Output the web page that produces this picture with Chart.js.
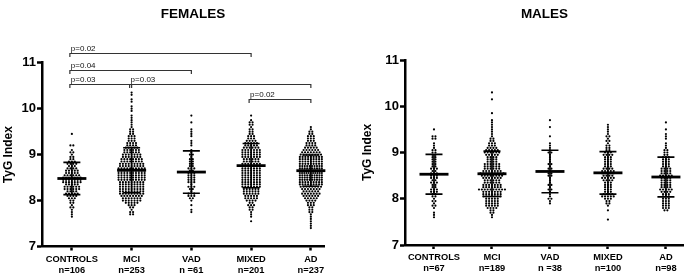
<!DOCTYPE html>
<html><head><meta charset="utf-8">
<script src="https://cdn.jsdelivr.net/npm/chart.js@4"></script>
<style>
html,body{margin:0;padding:0;background:#fff;}
#wrap{position:relative;width:685px;height:275px;overflow:hidden;}
#cf{position:absolute;left:0;top:0;}
#cm{position:absolute;left:345px;top:0;}
</style></head><body>
<div id="wrap"><canvas id="cf" width="345" height="275"></canvas><canvas id="cm" width="340" height="275"></canvas></div>
<script>
// ---------- DATA ----------
const categories = ['CONTROLS', 'MCI', 'VAD', 'MIXED', 'AD'];
const femaleN = ['n=106', 'n=253', 'n =61', 'n=201', 'n=237'];
const maleN = ['n=67', 'n=189', 'n =38', 'n=100', 'n=98'];
const yTicks = [7, 8, 9, 10, 11];
const binStep = 0.05;   // TyG values, grouped in 0.05 steps

// Females: first TyG value of each group and counts per 0.05 step
const fStarts = [7.65, 7.70, 7.75, 7.55, 7.40];
const fControlsCounts = [1,1,1,1,2,1,2,2,3,4, 5,4,6,6,5,7,7,7,6,5, 5,4,3,4,3,2,2,1,2,1, 0,2,0,0,0,0,1];
const fMciCounts = [2,2,1,2,3,5,7,7,8,9, 9,9,9,9,9,10,10,10,10,10, 10,9,9,8,8,7,7,6,6,5, 4,4,3,3,3,2,2,2,1,1, 1,1,1,1,0,1,1,1,0,1, 1,0,1,1];
const fVadCounts = [1,1,0,1,0,1,2,3,3,1, 2,3,1,3,3,3,3,3,2,3, 2,2,2,2,1,2,1,1,0,1, 1,1,0,1,1,1,1,0,0,1, 0,0,1];
const fMixedCounts = [1,0,1,1,1,2,2,3,2,4, 5,5,6,6,6,7,7,7,7,7, 7,7,7,7,7,7,6,6,7,7, 7,7,6,5,5,4,3,3,2,2, 2,1,2,2,1,0,1];
const fAdCounts = [1,1,1,1,1,1,1,2,2,2, 3,3,4,5,6,7,6,7,8,9, 9,10,10,10,11,11,10,10,9,9, 9,9,8,7,6,5,4,4,3,3, 3,2,2,1,1];
const fMeans = [8.48, 8.66, 8.62, 8.76, 8.65];
const fSDs = [0.35, 0.49, 0.46, 0.48, 0.34];

// Males
const mStarts = [7.60, 7.60, 7.90, 7.55, 7.75];
const mControlsCounts = [1,1,1,0,1,2,1,2,1,2, 2,3,3,2,2,3,2,3,3,3, 2,3,2,2,2,2,2,2,2,2, 1,1,1,0,2,2,0,0,1];
const mMciCounts = [1,1,2,2,4,5,5,5,5,7, 7,7,10,7,7,6,6,7,8,9, 7,6,6,6,4,4,4,5,6,5, 4,3,3,2,2,1,1,1,1,1, 1,1,1,0,0,1,0,0,0,0, 0,1,0,0,1];
const mVadCounts = [1,1,2,1,1,1,2,1,2,1, 1,1,2,2,1,2,1,2,1,1, 1,1,2,1,1,1,1,0,0,1, 0,0,0,1,0,0,1];
const mMixedCounts = [1,0,0,0,1,0,1,2,2,3, 5,4,3,3,3,3,3,4,5,4, 5,5,4,3,3,3,3,3,4,3, 2,2,2,1,2,1,2,1,1,1, 1,1];
const mAdCounts = [2,3,3,3,3,3,3,3,4,5, 4,4,4,4,4,5,4,4,4,3, 3,3,3,3,2,2,2,1,1,1, 0,1,1,1,0,1,0,0,1];
const mMeans = [8.53, 8.54, 8.59, 8.56, 8.47];
const mSDs = [0.43, 0.49, 0.46, 0.46, 0.43];

// Significance brackets (females)
const bracketFrom = [0, 0, 0, 1, 3];
const bracketTo = [3, 2, 1, 4, 4];
const bracketLevel = [11.22, 10.84, 10.53, 10.53, 10.20];
const bracketP = ['p=0.02', 'p=0.04', 'p=0.03', 'p=0.03', 'p=0.02'];

// ---------- STYLE ----------
const FONT = "'Liberation Sans', Arial, sans-serif";
const dotSpacingPx = 2.9;
const fMaxRowPx = [22, 27, 22, 28, 22];
const mMaxRowPx = [22, 28, 14, 26, 26];

function buildPoints(countsList, starts, maxRow, pxPerCat) {
  const pts = [];
  countsList.forEach((counts, gi) => {
    counts.forEach((k, bi) => {
      if (!k) return;
      const yv = +(starts[gi] + bi * binStep).toFixed(2);
      let sp = dotSpacingPx;
      if (k > 1 && (k - 1) * sp > maxRow[gi]) sp = maxRow[gi] / (k - 1);
      for (let j = 0; j < k; j++) {
        const off = (j - (k - 1) / 2) * sp;
        pts.push({x: gi + off / pxPerCat, y: yv});
      }
    });
  });
  return pts;
}

const statPlugin = {
  id: 'stats',
  afterDatasetsDraw(chart, args, o) {
    const {ctx, scales: {x, y}} = chart;
    ctx.save();
    ctx.strokeStyle = '#000';
    ctx.lineCap = 'butt';
    o.means.forEach((m, i) => {
      const cx = x.getPixelForValue(i);
      const yt = y.getPixelForValue(m + o.sds[i]);
      const yb = y.getPixelForValue(m - o.sds[i]);
      const ym = y.getPixelForValue(m);
      ctx.lineWidth = 1.6;
      ctx.beginPath();
      ctx.moveTo(cx, yt); ctx.lineTo(cx, yb);
      ctx.moveTo(cx - 8.5, yt); ctx.lineTo(cx + 8.5, yt);
      ctx.moveTo(cx - 8.5, yb); ctx.lineTo(cx + 8.5, yb);
      ctx.stroke();
      ctx.lineWidth = 2.8;
      ctx.beginPath();
      ctx.moveTo(cx - 14.5, ym); ctx.lineTo(cx + 14.5, ym);
      ctx.stroke();
    });
    if (o.brackets) {
      const b = o.brackets;
      ctx.strokeStyle = '#333';
      ctx.fillStyle = '#111';
      ctx.lineWidth = 1.2;
      ctx.font = '8px ' + FONT;
      ctx.textAlign = 'left';
      ctx.textBaseline = 'alphabetic';
      b.from.forEach((f, i) => {
        const x1 = x.getPixelForValue(f) - 2;
        const x2 = x.getPixelForValue(b.to[i]);
        const yy = Math.round(y.getPixelForValue(b.level[i])) + 0.5;
        ctx.beginPath();
        ctx.moveTo(x1, yy + 3.5); ctx.lineTo(x1, yy); ctx.lineTo(x2, yy); ctx.lineTo(x2, yy + 3.5);
        ctx.stroke();
        ctx.fillText(b.p[i], x1 + 1, yy - 3);
      });
    }
    ctx.fillStyle = '#000';
    ctx.font = 'bold 13.5px ' + FONT;
    ctx.textAlign = 'center';
    ctx.textBaseline = 'middle';
    ctx.fillText(o.title, o.titleX, 14);
    ctx.restore();
  }
};

function makeChart(id, pts, nLabels, means, sds, opts) {
  return new Chart(document.getElementById(id), {
    type: 'scatter',
    data: {datasets: [{data: pts, pointRadius: 1.1, pointBackgroundColor: '#000', pointBorderWidth: 0, pointHoverRadius: 1.1}]},
    options: {
      responsive: false, animation: false, events: [],
      layout: {padding: {top: opts.top, right: opts.right, left: 0, bottom: 0}},
      plugins: {legend: {display: false}, tooltip: {enabled: false},
        stats: {means, sds, brackets: opts.brackets, title: opts.title, titleX: opts.titleX}},
      scales: {
        x: {
          type: 'linear', min: -0.5, max: opts.xmax,
          afterBuildTicks: s => { s.ticks = categories.map((c, i) => ({value: i})); },
          afterFit: s => { s.height = opts.xh; },
          ticks: {callback: (v) => [categories[v], nLabels[v]], font: {family: FONT, size: 9.3, weight: 'bold', lineHeight: 1.2}, color: '#000', padding: 3, maxRotation: 0, autoSkip: false},
          grid: {drawOnChartArea: false, tickLength: 4, tickWidth: 2.5, tickColor: '#000'},
          border: {color: '#000', width: 2.5}
        },
        y: {
          min: 7, max: 11,
          afterBuildTicks: s => { s.ticks = yTicks.map(v => ({value: v})); },
          afterFit: s => { s.width = opts.yw; },
          ticks: {font: {family: FONT, size: 13, weight: 'bold'}, color: '#000', padding: 1},
          title: {display: true, text: 'TyG Index', font: {family: FONT, size: 12, weight: 'bold'}, color: '#000', padding: {top: opts.titlePad, bottom: 0}},
          grid: {drawOnChartArea: false, tickLength: 5, tickWidth: 2.5, tickColor: '#000'},
          border: {color: '#000', width: 2.5}
        }
      }
    },
    plugins: [statPlugin]
  });
}

const fPts = buildPoints([fControlsCounts, fMciCounts, fVadCounts, fMixedCounts, fAdCounts], fStarts, fMaxRowPx, 59.75);
const mPts = buildPoints([mControlsCounts, mMciCounts, mVadCounts, mMixedCounts, mAdCounts], mStarts, mMaxRowPx, 58.25);

makeChart('cf', fPts, femaleN, fMeans, fSDs, {
  top: 62.7, right: 21, xmax: 4.22, xh: 28.5, yw: 42, titlePad: 1, title: 'FEMALES', titleX: 193,
  brackets: {from: bracketFrom, to: bracketTo, level: bracketLevel, p: bracketP}
});
makeChart('cm', mPts, maleN, mMeans, mSDs, {
  top: 60, right: 0, xmax: 4.31, xh: 30, yw: 60, titlePad: 15, title: 'MALES', titleX: 199.5
});
</script>
</body></html>
